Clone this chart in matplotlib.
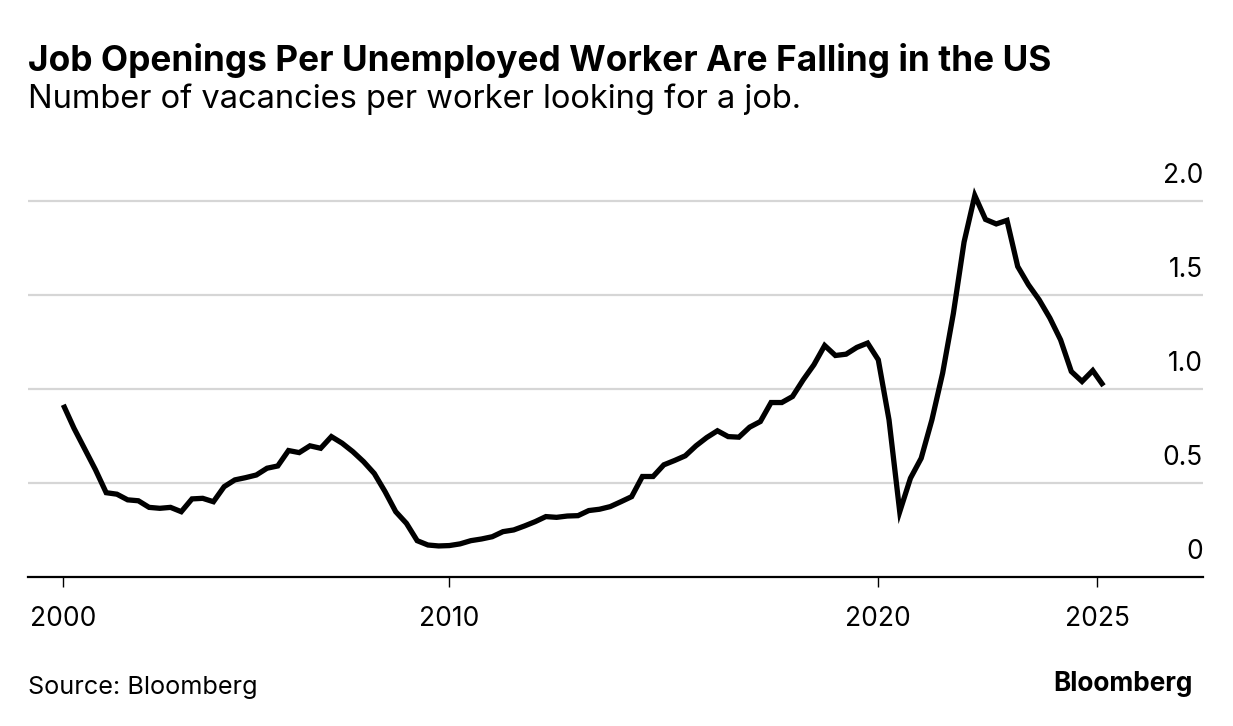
import numpy as np
import matplotlib
matplotlib.use("Agg")
import matplotlib.pyplot as plt

# ---- data (quarterly) ----
start_year = 2001.0
values = [0.915, 0.79, 0.68, 0.57, 0.448, 0.44, 0.41, 0.405, 0.37, 0.365,
          0.37, 0.347, 0.415, 0.418, 0.40, 0.48, 0.516, 0.528, 0.542, 0.578,
          0.59, 0.672, 0.661, 0.697, 0.684, 0.746, 0.711, 0.666, 0.613, 0.55,
          0.454, 0.347, 0.285, 0.193, 0.17, 0.165, 0.167, 0.176, 0.193, 0.202,
          0.214, 0.241, 0.25, 0.271, 0.294, 0.321, 0.317, 0.324, 0.326, 0.353,
          0.36, 0.374, 0.40, 0.427, 0.534, 0.534, 0.596, 0.619, 0.644, 0.697,
          0.741, 0.777, 0.746, 0.743, 0.796, 0.826, 0.927, 0.927, 0.959, 1.048,
          1.128, 1.23, 1.177, 1.184, 1.22, 1.243, 1.154, 0.835, 0.347, 0.525,
          0.631, 0.835, 1.083, 1.40, 1.78, 2.027, 1.90, 1.876, 1.895, 1.65,
          1.553, 1.473, 1.376, 1.26, 1.092, 1.039, 1.097, 1.016]
years = start_year + 0.25 * np.arange(len(values))

x_tick_pos = [2001.0, 2010.0, 2020.0, 2025.1]
x_tick_labels = ["2000", "2010", "2020", "2025"]
y_ticks = [0, 0.5, 1.0, 1.5, 2.0]
y_tick_labels = ["0", "0.5", "1.0", "1.5", "2.0"]

title = "Job Openings Per Unemployed Worker Are Falling in the US"
subtitle = "Number of vacancies per worker looking for a job."
source = "Source: Bloomberg"
brand = "Bloomberg"

FONT = ['Inter', 'DejaVu Sans']
plt.rcParams['font.family'] = FONT

W, H = 1233, 726
fig = plt.figure(figsize=(W / 100, H / 100), dpi=100)
fig.patch.set_facecolor("white")
renderer = fig.canvas.get_renderer()


def fit_size(text, target_px, weight="normal", base=20.0):
    t = fig.text(0, 0, text, fontsize=base, fontweight=weight)
    w = t.get_window_extent(renderer).width
    t.remove()
    return base * target_px / w


tick_fs = fit_size("2000", 66)

ymax = 2.15
ax = fig.add_axes([28 / W, (H - 577) / H, 1175 / W, ymax * 188.2 / H])
ax.set_xlim(2000.177, 2027.57)
ax.set_ylim(0, ymax)

for v in y_ticks[1:]:
    ax.axhline(v, color="#d6d6d6", lw=1.6, zorder=1)

ax.plot(years, values, color="black", lw=3.8, solid_joinstyle="miter",
        solid_capstyle="butt", zorder=3)

for s in ["top", "left", "right"]:
    ax.spines[s].set_visible(False)
ax.spines["bottom"].set_color("black")
ax.spines["bottom"].set_linewidth(1.6)
ax.spines["bottom"].set_zorder(4)

ax.set_xticks(x_tick_pos)
ax.set_xticklabels(x_tick_labels, fontsize=tick_fs, color="black")
ax.tick_params(axis="x", direction="out", length=7, width=1, color="black", pad=14)
ax.set_yticks([])

for v, lab in zip(y_ticks, y_tick_labels):
    ax.annotate(lab, xy=(1.0, v), xycoords=("axes fraction", "data"),
                xytext=(0, 13), textcoords="offset points",
                ha="right", va="baseline", fontsize=tick_fs, color="black")

fig.text(28 / W, (H - 70.7) / H, title,
         fontsize=fit_size(title, 1025, "bold"), fontweight="bold",
         ha="left", va="baseline", color="black")
fig.text(28 / W, (H - 108.3) / H, subtitle,
         fontsize=fit_size(subtitle, 775), ha="left", va="baseline", color="black")
fig.text(28 / W, (H - 694) / H, source,
         fontsize=fit_size(source, 229), ha="left", va="baseline", color="black")
fig.text(1193 / W, (H - 691) / H, brand,
         fontsize=fit_size(brand, 140, "bold"), fontweight="bold",
         ha="right", va="baseline", color="black")

fig.savefig("out.png", dpi=100, facecolor="white")
